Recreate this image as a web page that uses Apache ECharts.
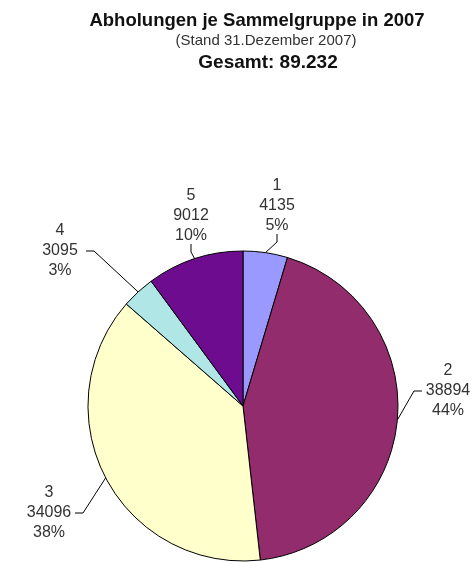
<!DOCTYPE html>
<html>
<head>
<meta charset="utf-8">
<script src="https://cdn.jsdelivr.net/npm/echarts@6/dist/echarts.min.js"></script>
<style>
  html, body { margin: 0; padding: 0; background: #fff; }
  #chart { width: 475px; height: 562px; }
</style>
</head>
<body>
<div id="chart"></div>
<script>
const groups = ['1', '2', '3', '4', '5'];
const pickups = [4135, 38894, 34096, 3095, 9012];
const sliceColors = ['#9999FF', '#922C6C', '#FFFFCC', '#B0E6E6', '#6E0C8F'];

// where each label block sits (centre of the text block)
const labelSpots = [[277, 206], [448, 391], [49, 513], [60, 251], [191, 216]];

const chart = echarts.init(document.getElementById('chart'), null, { renderer: 'canvas' });
const total = pickups.reduce((a, b) => a + b, 0);

chart.setOption({
    backgroundColor: '#fff',
    animation: false,
    textStyle: { fontFamily: 'Liberation Sans, Arial, sans-serif' },
    title: [
        {
            text: 'Abholungen je Sammelgruppe in 2007',
            left: 252, top: 6, textAlign: 'center',
            textStyle: { fontSize: 18.5, fontWeight: 'bold', color: '#111', fontFamily: 'Liberation Sans' }
        },
        {
            text: '(Stand 31.Dezember 2007)',
            left: 261, top: 28, textAlign: 'center',
            textStyle: { fontSize: 15, fontWeight: 'normal', color: '#333', fontFamily: 'Liberation Sans' }
        },
        {
            text: 'Gesamt: ' + total.toLocaleString('de-DE'),
            left: 263, top: 48, textAlign: 'center',
            textStyle: { fontSize: 19, fontWeight: 'bold', color: '#111', fontFamily: 'Liberation Sans' }
        }
    ],
    series: [{
        type: 'pie',
        center: [243, 406],
        radius: 155,
        startAngle: 90,
        clockwise: true,
        color: sliceColors,
        itemStyle: { borderColor: '#000', borderWidth: 1 },
        label: {
            show: true,
            position: 'outside',
            width: 52,
            formatter: p => '{t|' + p.name + '}\n{t|' + p.value + '}\n{t|' + Math.round(p.percent) + '%}',
            rich: {
                t: { width: 52, align: 'center', fontSize: 16, lineHeight: 20, color: '#333', fontFamily: 'Liberation Sans' }
            }
        },
        labelLine: {
            show: true,
            length: 10,
            length2: 8,
            lineStyle: { color: '#000', width: 1 }
        },
        labelLayout: p => ({
            x: labelSpots[p.dataIndex][0],
            y: labelSpots[p.dataIndex][1],
            align: 'center',
            verticalAlign: 'middle'
        }),
        data: groups.map((g, i) => ({ name: g, value: pickups[i] }))
    }]
});
</script>
</body>
</html>
